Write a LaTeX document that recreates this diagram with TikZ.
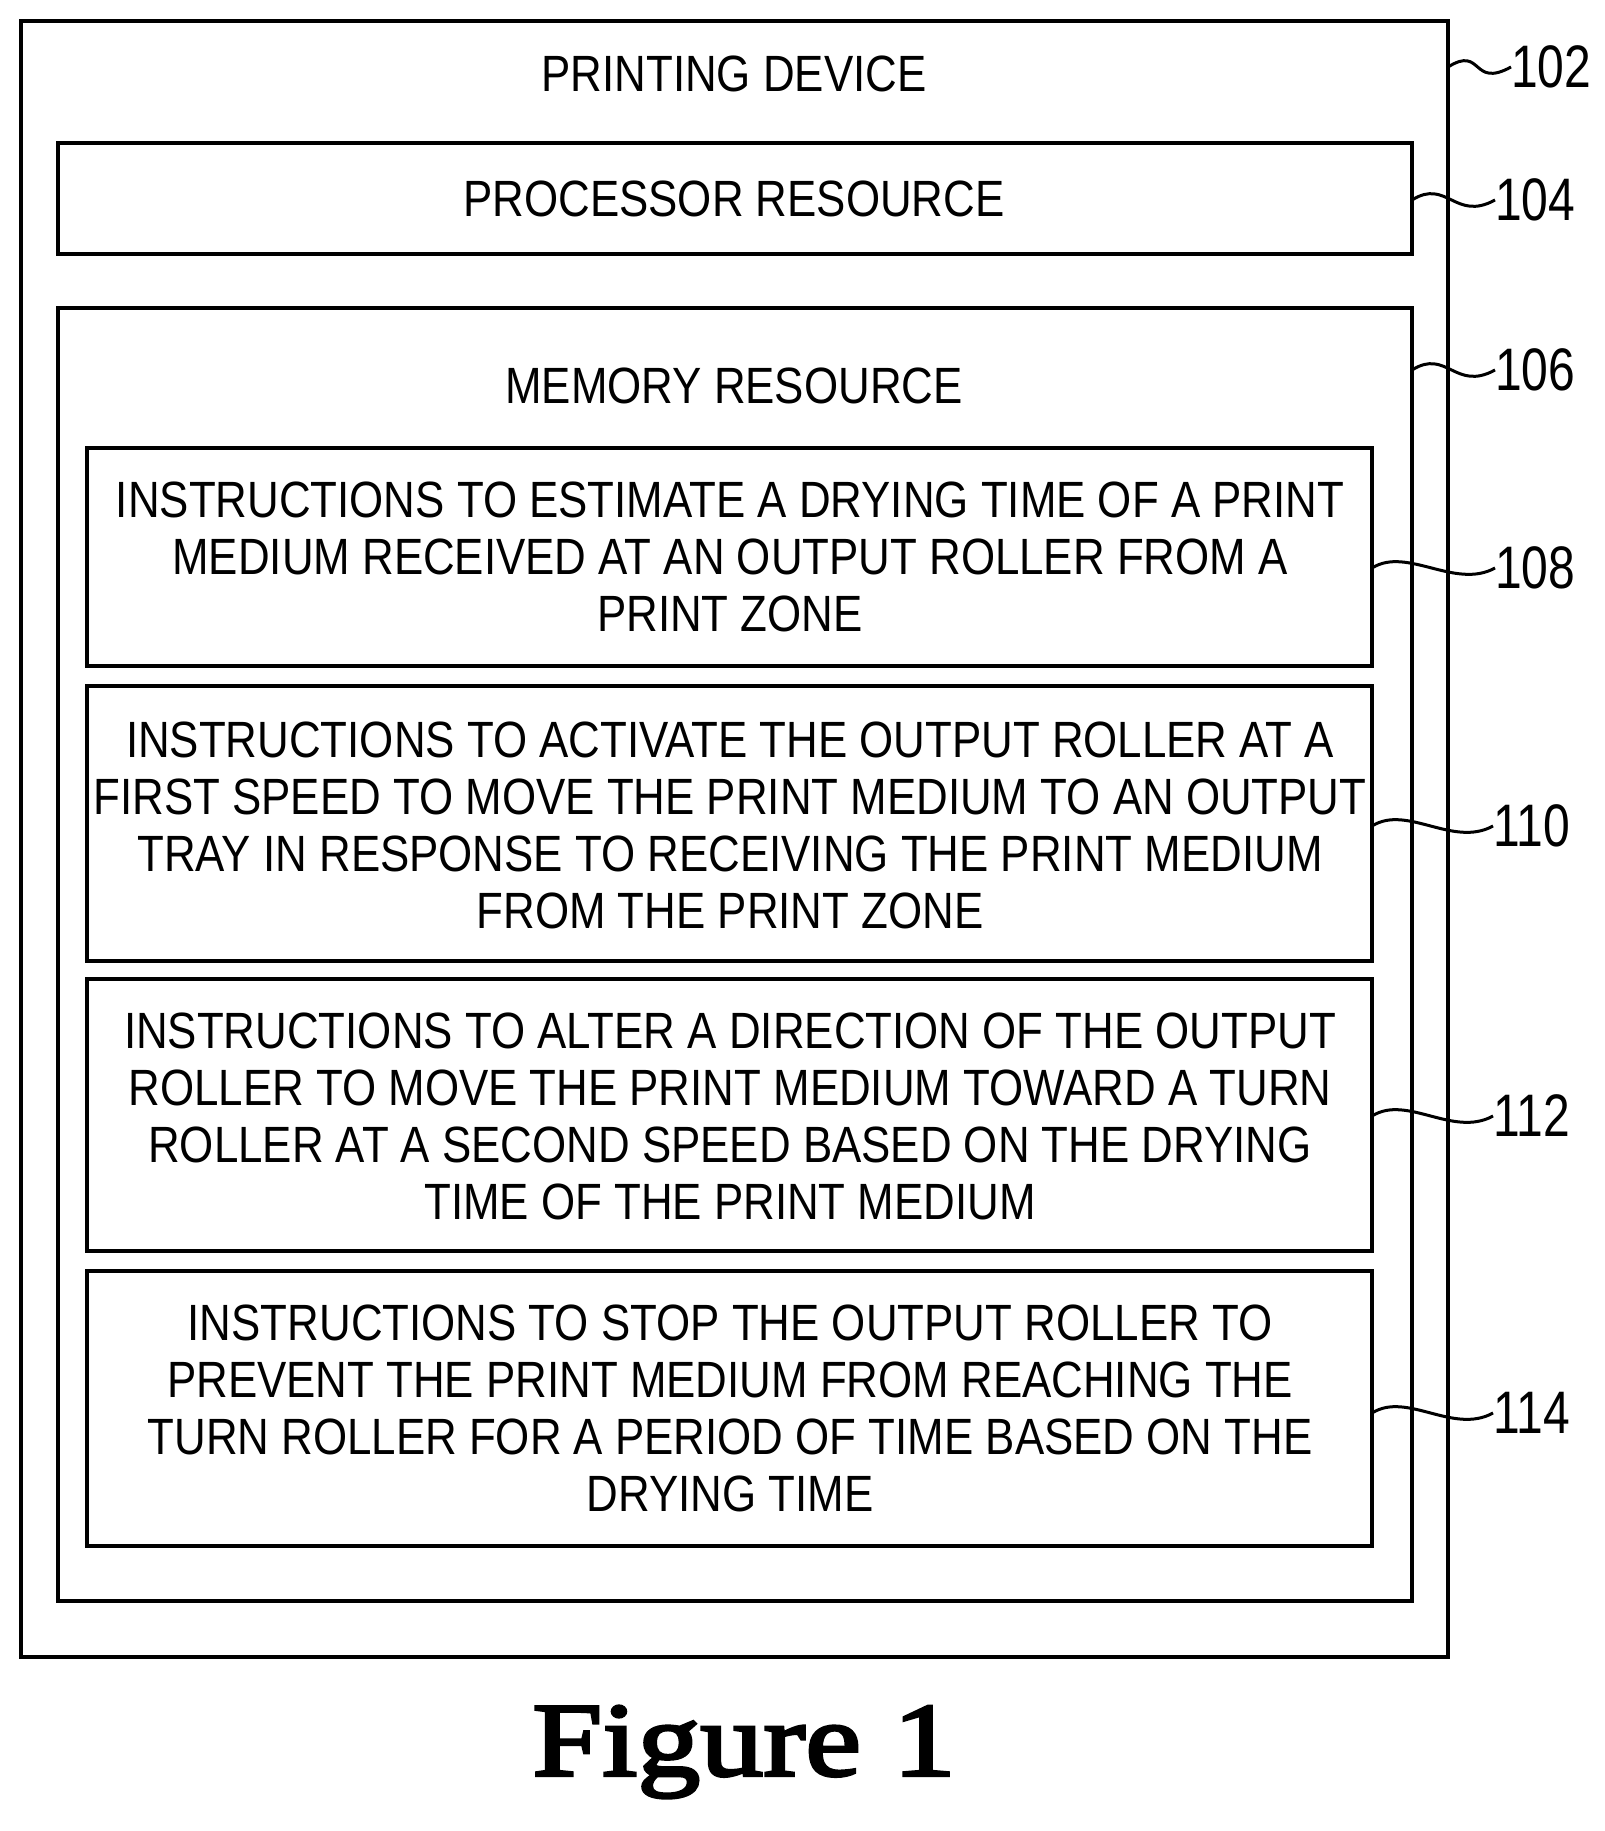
\documentclass[tikz,border=0pt]{standalone}
\usepackage{fontspec}
\setmainfont{Liberation Sans}[FakeStretch=0.86]
\newfontfamily\lblfont{Liberation Sans}[FakeStretch=0.8]
\newfontfamily\figfont{Liberation Serif}[FakeBold=3,FakeStretch=1.2]
\begin{document}
\begin{tikzpicture}[x=1pt,y=-1pt,
  frame/.style={draw=black,line width=3.5pt},
  txt/.style={font=\fontsize{51}{57}\selectfont,align=center,inner sep=0pt},
  lbl/.style={font=\lblfont\fontsize{60}{60}\selectfont,anchor=west,inner sep=0pt},
  lead/.style={line width=3pt}]
\useasboundingbox (0,0) rectangle (1605,1831);
\draw[frame] (21,21) rectangle (1448,1657);
\draw[frame] (58,143) rectangle (1412,254);
\draw[frame] (58,308) rectangle (1412,1601);
\draw[frame] (87,448) rectangle (1372,666);
\draw[frame] (87,686) rectangle (1372,961);
\draw[frame] (87,979) rectangle (1372,1251);
\draw[frame] (87,1271) rectangle (1372,1546);
\node[txt] (t102) at (734,74) {PRINTING DEVICE};
\node[txt] (t104) at (734,199) {PROCESSOR RESOURCE};
\node[txt] (t106) at (734,386) {MEMORY RESOURCE};
\node[txt] (t108) at (730,557) {INSTRUCTIONS TO ESTIMATE A DRYING TIME OF A PRINT\\MEDIUM RECEIVED AT AN OUTPUT ROLLER FROM A\\PRINT ZONE};
\node[txt] (t110) at (730,825) {INSTRUCTIONS TO ACTIVATE THE OUTPUT ROLLER AT A\\FIRST SPEED TO MOVE THE PRINT MEDIUM TO AN OUTPUT\\TRAY IN RESPONSE TO RECEIVING THE PRINT MEDIUM\\FROM THE PRINT ZONE};
\node[txt] (t112) at (730,1116) {INSTRUCTIONS TO ALTER A DIRECTION OF THE OUTPUT\\ROLLER TO MOVE THE PRINT MEDIUM TOWARD A TURN\\ROLLER AT A SECOND SPEED BASED ON THE DRYING\\TIME OF THE PRINT MEDIUM};
\node[txt] (t114) at (730,1408) {INSTRUCTIONS TO STOP THE OUTPUT ROLLER TO\\PREVENT THE PRINT MEDIUM FROM REACHING THE\\TURN ROLLER FOR A PERIOD OF TIME BASED ON THE\\DRYING TIME};
\foreach \n/\xa/\xb/\y in {102/1448/1508/67,104/1412/1492/200,106/1412/1492/370,108/1372/1492/568,110/1372/1490/826,112/1372/1490/1116,114/1372/1490/1413}{
  \node[lbl] (l\n) at (\xb+3,\y) {\n};
  \coordinate (s\n) at (\xa,\y);
  \draw[lead] (s\n) .. controls ++(35,-22) and ++(-40,22) .. (l\n.west);
}
\node[font=\figfont\fontsize{105}{105}\selectfont] (fig) at (744,1752) {Figure 1};
\end{tikzpicture}
\end{document}
